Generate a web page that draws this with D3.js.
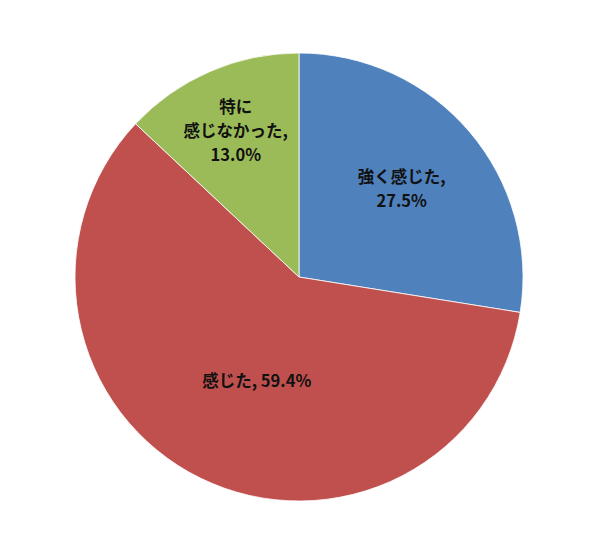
<!DOCTYPE html>
<html><head><meta charset="utf-8">
<script src="https://cdn.jsdelivr.net/npm/d3@7"></script>
<style>html,body{margin:0;padding:0;background:#fff;}</style>
</head><body>
<svg id="chart" width="600" height="554"></svg>
<script>
const categories = ["強く感じた", "感じた", "特に\n感じなかった"];
const values = [27.5, 59.4, 13.0];
const colors = ["#4F81BD", "#C0504D", "#9BBB59"];

// layout config (not data)
const cx = 299, cy = 277, R = 224;
const labelRadius = [135, 114, 159];
const labelShift = [[0, 0], [8, 2], [0, 0]];
const labelLines = [
  ["強く感じた,", "27.5%"],
  ["感じた, 59.4%"],
  ["特に", "感じなかった,", "13.0%"]
];

const svg = d3.select("#chart");
const g = svg.append("g").attr("transform", `translate(${cx},${cy})`);
const data = categories.map((c, i) => ({cat: c, value: values[i], idx: i}));
const pie = d3.pie().sort(null).value(d => d.value);
const arcs = pie(data);
const arc = d3.arc().innerRadius(0).outerRadius(R);

g.selectAll("path").data(arcs).enter().append("path")
  .attr("d", arc)
  .attr("fill", d => colors[d.data.idx])
  .attr("stroke", "#ffffff")
  .attr("stroke-width", 0.8);

const lineH = 24;
arcs.forEach(d => {
  const i = d.data.idx;
  const la = d3.arc().innerRadius(labelRadius[i]).outerRadius(labelRadius[i]);
  let [x, y] = la.centroid(d);
  x += labelShift[i][0]; y += labelShift[i][1];
  const lines = labelLines[i];
  const t = g.append("text")
    .attr("text-anchor", "middle")
    .attr("font-family", "'Noto Sans CJK JP', 'Noto Sans', sans-serif")
    .attr("font-size", 16.5)
    .attr("font-weight", "bold")
    .attr("fill", "#111");
  lines.forEach((ln, k) => {
    t.append("tspan")
      .attr("x", x)
      .attr("y", y + (k - (lines.length - 1) / 2) * lineH)
      .attr("dy", "0.35em")
      .text(ln);
  });
});
</script>
</body></html>
